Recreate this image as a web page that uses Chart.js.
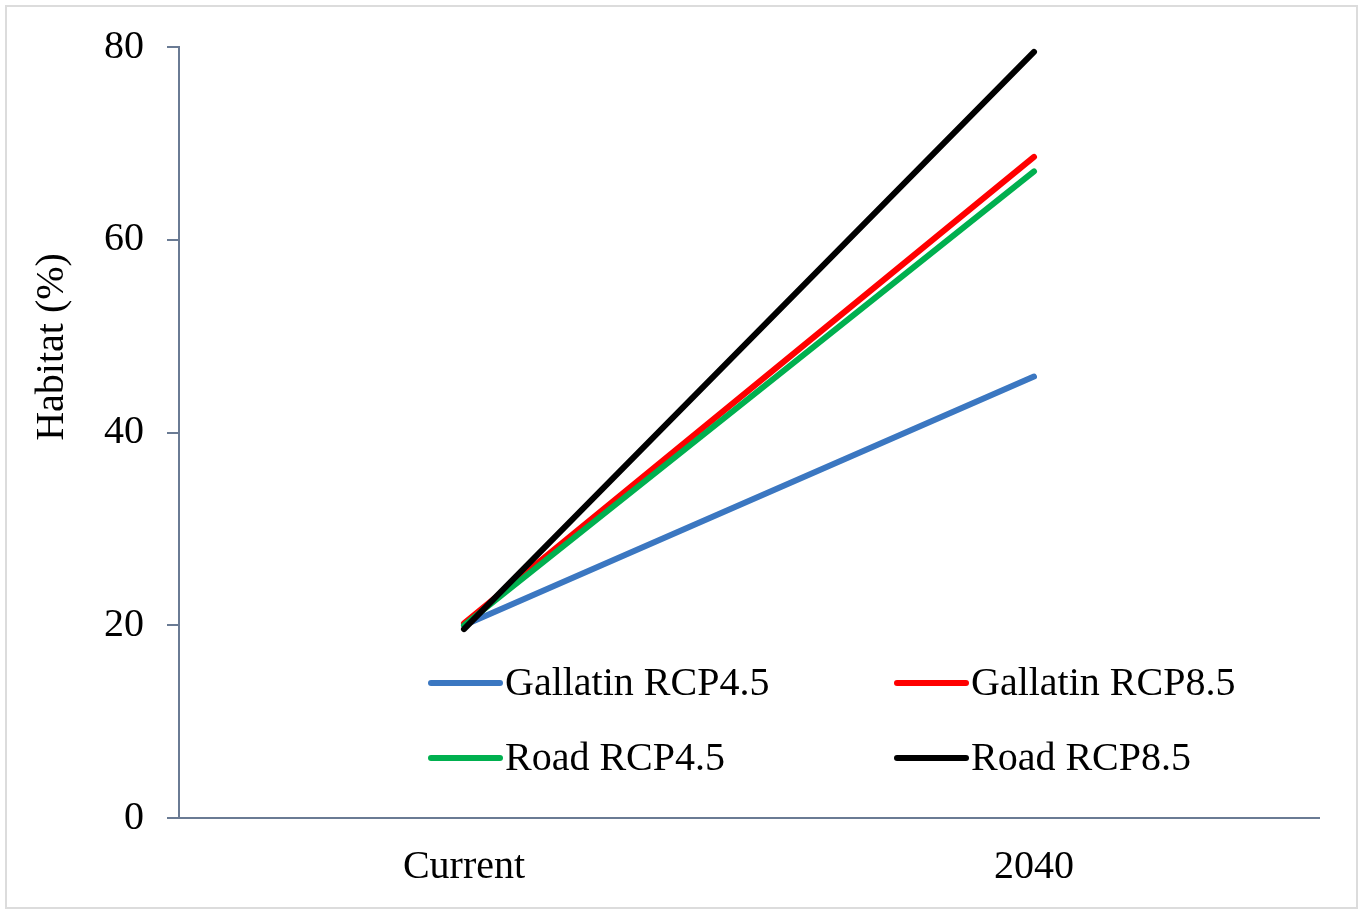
<!DOCTYPE html>
<html>
<head>
<meta charset="utf-8">
<script src="https://cdn.jsdelivr.net/npm/chart.js@4"></script>
<style>
  html, body { margin: 0; padding: 0; background: #ffffff; }
  #wrap { position: relative; width: 1358px; height: 909px; }
</style>
</head>
<body>
<div id="wrap"><canvas id="chart" width="1358" height="909"></canvas></div>
<script>
// Habitat share now and projected for 2040
const periods = ['Current', '2040'];
const seriesNames = ['Gallatin RCP4.5', 'Gallatin RCP8.5', 'Road RCP4.5', 'Road RCP8.5'];
const gallatinRcp45 = [20.0, 45.8];
const gallatinRcp85 = [20.2, 68.6];
const roadRcp45 = [20.0, 67.1];
const roadRcp85 = [19.6, 79.5];
const seriesColors = ['#3b77c1', '#ff0000', '#00b04f', '#000000'];
const yTicks = [0, 20, 40, 60, 80];
const yTitle = 'Habitat (%)';

const FONT = '"Liberation Serif", "Times New Roman", serif';
const AXIS = '#6a7b94';

const values = [gallatinRcp45, gallatinRcp85, roadRcp45, roadRcp85];
// later series are drawn on top (lower order = drawn last)
const datasets = values.map((v, i) => ({
  label: seriesNames[i],
  data: v,
  borderColor: seriesColors[i],
  backgroundColor: seriesColors[i],
  borderWidth: 6,
  borderCapStyle: 'round',
  borderJoinStyle: 'round',
  pointRadius: 0,
  tension: 0,
  fill: false,
  order: values.length - 1 - i
}));

// white page with thin grey frame
const framePlugin = {
  id: 'frame',
  beforeDraw(chart) {
    const ctx = chart.ctx;
    ctx.save();
    ctx.fillStyle = '#ffffff';
    ctx.fillRect(0, 0, chart.width, chart.height);
    ctx.strokeStyle = '#dcdcdc';
    ctx.lineWidth = 2;
    ctx.strokeRect(6, 6, chart.width - 7, chart.height - 7);
    ctx.restore();
  }
};

// rotated y-axis title, placed left of the tick labels
const yTitlePlugin = {
  id: 'yTitle',
  afterDraw(chart) {
    const ctx = chart.ctx;
    const area = chart.chartArea;
    ctx.save();
    ctx.translate(52, area.top + (area.bottom - area.top) * 0.389);
    ctx.rotate(-Math.PI / 2);
    ctx.font = '40px ' + FONT;
    ctx.fillStyle = '#000000';
    ctx.textAlign = 'center';
    ctx.textBaseline = 'middle';
    ctx.fillText(yTitle, 0, 0);
    ctx.restore();
  }
};

// two-column legend drawn inside the plot area
const legendPlugin = {
  id: 'insideLegend',
  afterDraw(chart) {
    const ctx = chart.ctx;
    const area = chart.chartArea;
    const colX = [area.left + 252, area.left + 718];
    const rowY = [area.top + 636, area.top + 711];
    const lineLen = 69;
    ctx.save();
    ctx.font = '40px ' + FONT;
    ctx.textBaseline = 'alphabetic';
    ctx.textAlign = 'left';
    chart.data.datasets.forEach((ds, i) => {
      const x = colX[i % 2];
      const y = rowY[Math.floor(i / 2)];
      ctx.strokeStyle = ds.borderColor;
      ctx.lineWidth = 6;
      ctx.lineCap = 'round';
      ctx.beginPath();
      ctx.moveTo(x, y);
      ctx.lineTo(x + lineLen, y);
      ctx.stroke();
      ctx.fillStyle = '#000000';
      ctx.fillText(ds.label, x + lineLen + 5, y + 12);
    });
    ctx.restore();
  }
};

new Chart(document.getElementById('chart'), {
  type: 'line',
  data: { labels: periods, datasets },
  plugins: [framePlugin, yTitlePlugin, legendPlugin],
  options: {
    responsive: false,
    animation: false,
    layout: { padding: { left: 0, right: 39, top: 46, bottom: 0 } },
    plugins: {
      legend: { display: false },
      tooltip: { enabled: false },
      title: { display: false }
    },
    scales: {
      x: {
        type: 'category',
        offset: true,
        grid: { display: false, drawTicks: false },
        border: { display: true, color: AXIS, width: 2 },
        ticks: {
          padding: 25,
          color: '#000000',
          font: { family: FONT, size: 40 }
        },
        afterFit(scale) { scale.height = 91; }
      },
      y: {
        min: 0,
        max: 80,
        afterBuildTicks(scale) { scale.ticks = yTicks.map(v => ({ value: v })); },
        grid: {
          drawOnChartArea: false,
          drawTicks: true,
          tickLength: 12,
          color: AXIS,
          lineWidth: 2
        },
        border: { display: true, color: AXIS, width: 2 },
        ticks: {
          padding: 23,
          color: '#000000',
          font: { family: FONT, size: 40 }
        },
        afterFit(scale) { scale.width = 179; }
      }
    }
  }
});
</script>
</body>
</html>
